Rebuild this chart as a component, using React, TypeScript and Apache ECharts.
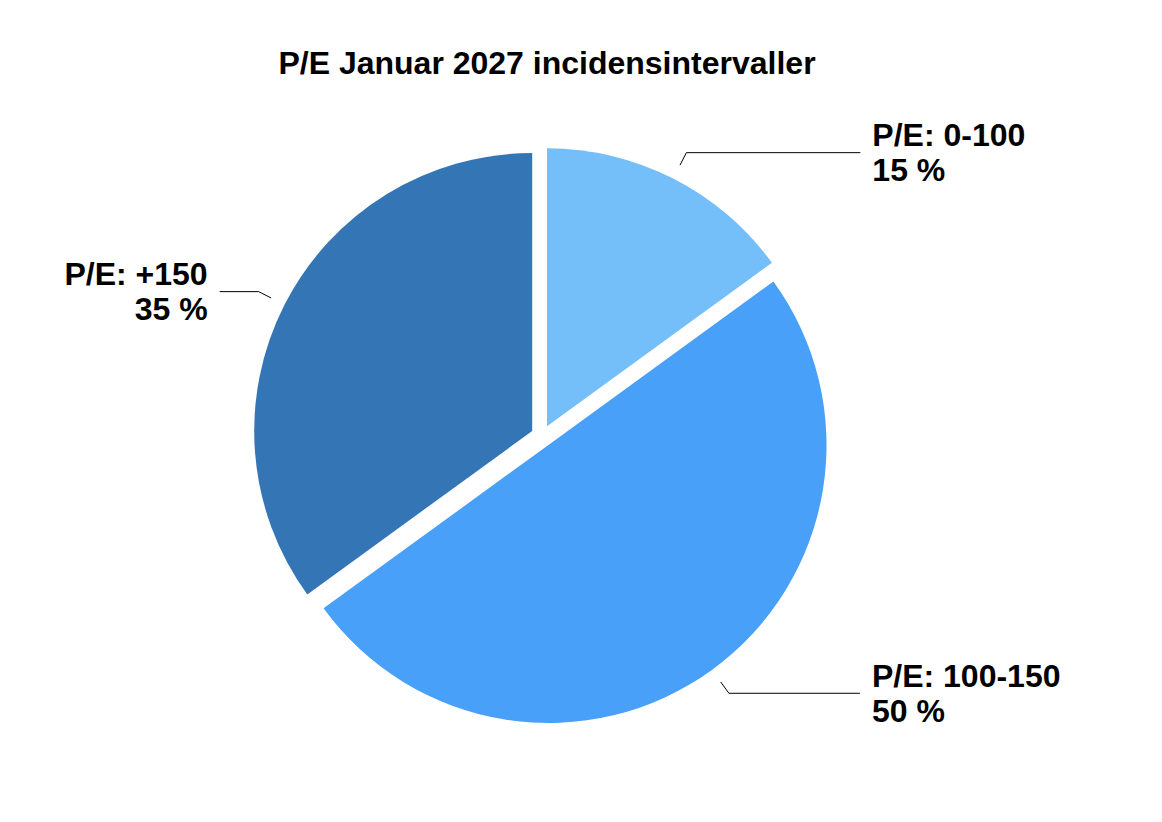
import React, { useEffect, useRef } from "react";
import * as echarts from "echarts";

const categories = ["P/E: 0-100", "P/E: 100-150", "P/E: +150"];
const values = [15, 50, 35];
const colors = ["#74BEF9", "#48A0F8", "#3475B5"];
const leaderLengths2 = [174, 131, 39];
const titleText = "P/E Januar 2027 incidensintervaller";

export default function App() {
  const ref = useRef<HTMLDivElement>(null);
  useEffect(() => {
    document.body.style.margin = "0";
    const chart = echarts.init(ref.current!, null, { renderer: "svg" });
    const font = "'Liberation Sans', Arial, Helvetica, sans-serif";
    const sliceData = categories.map((name, i) => ({
      name,
      value: values[i],
      selected: true,
      itemStyle: { color: colors[i] },
    }));
    const labelData = categories.map((name, i) => ({
      name,
      value: values[i],
      labelLine: { length2: leaderLengths2[i] },
    }));
    chart.setOption({
      animation: false,
      backgroundColor: "#ffffff",
      title: {
        text: titleText,
        left: 542,
        textAlign: "center",
        top: 42,
        textStyle: {
          fontFamily: font,
          fontSize: 32,
          fontWeight: "bold",
          color: "#000000",
        },
      },
      series: [
        {
          type: "pie",
          center: [542, 436],
          radius: [0, 278],
          startAngle: 90,
          clockwise: true,
          selectedMode: "multiple",
          selectedOffset: 11,
          silent: true,
          label: { show: false },
          labelLine: { show: false },
          emphasis: { disabled: true },
          itemStyle: { borderWidth: 0 },
          data: sliceData,
        },
        {
          type: "pie",
          center: [542, 436],
          radius: [0, 304],
          startAngle: 90,
          clockwise: true,
          silent: true,
          emphasis: { disabled: true },
          itemStyle: { color: "rgba(0,0,0,0)", borderWidth: 0 },
          label: {
            show: true,
            formatter: "{b}\n{c} %",
            fontFamily: font,
            fontSize: 32,
            fontWeight: "bold",
            lineHeight: 35,
            color: "#000000",
            distanceToLabelLine: 12,
          },
          labelLine: {
            show: true,
            length: 14,
            lineStyle: { color: "#000000", width: 1 },
          },
          data: labelData,
        },
      ],
    });
    return () => chart.dispose();
  }, []);
  return <div ref={ref} style={{ width: 1162, height: 822 }} />;
}
